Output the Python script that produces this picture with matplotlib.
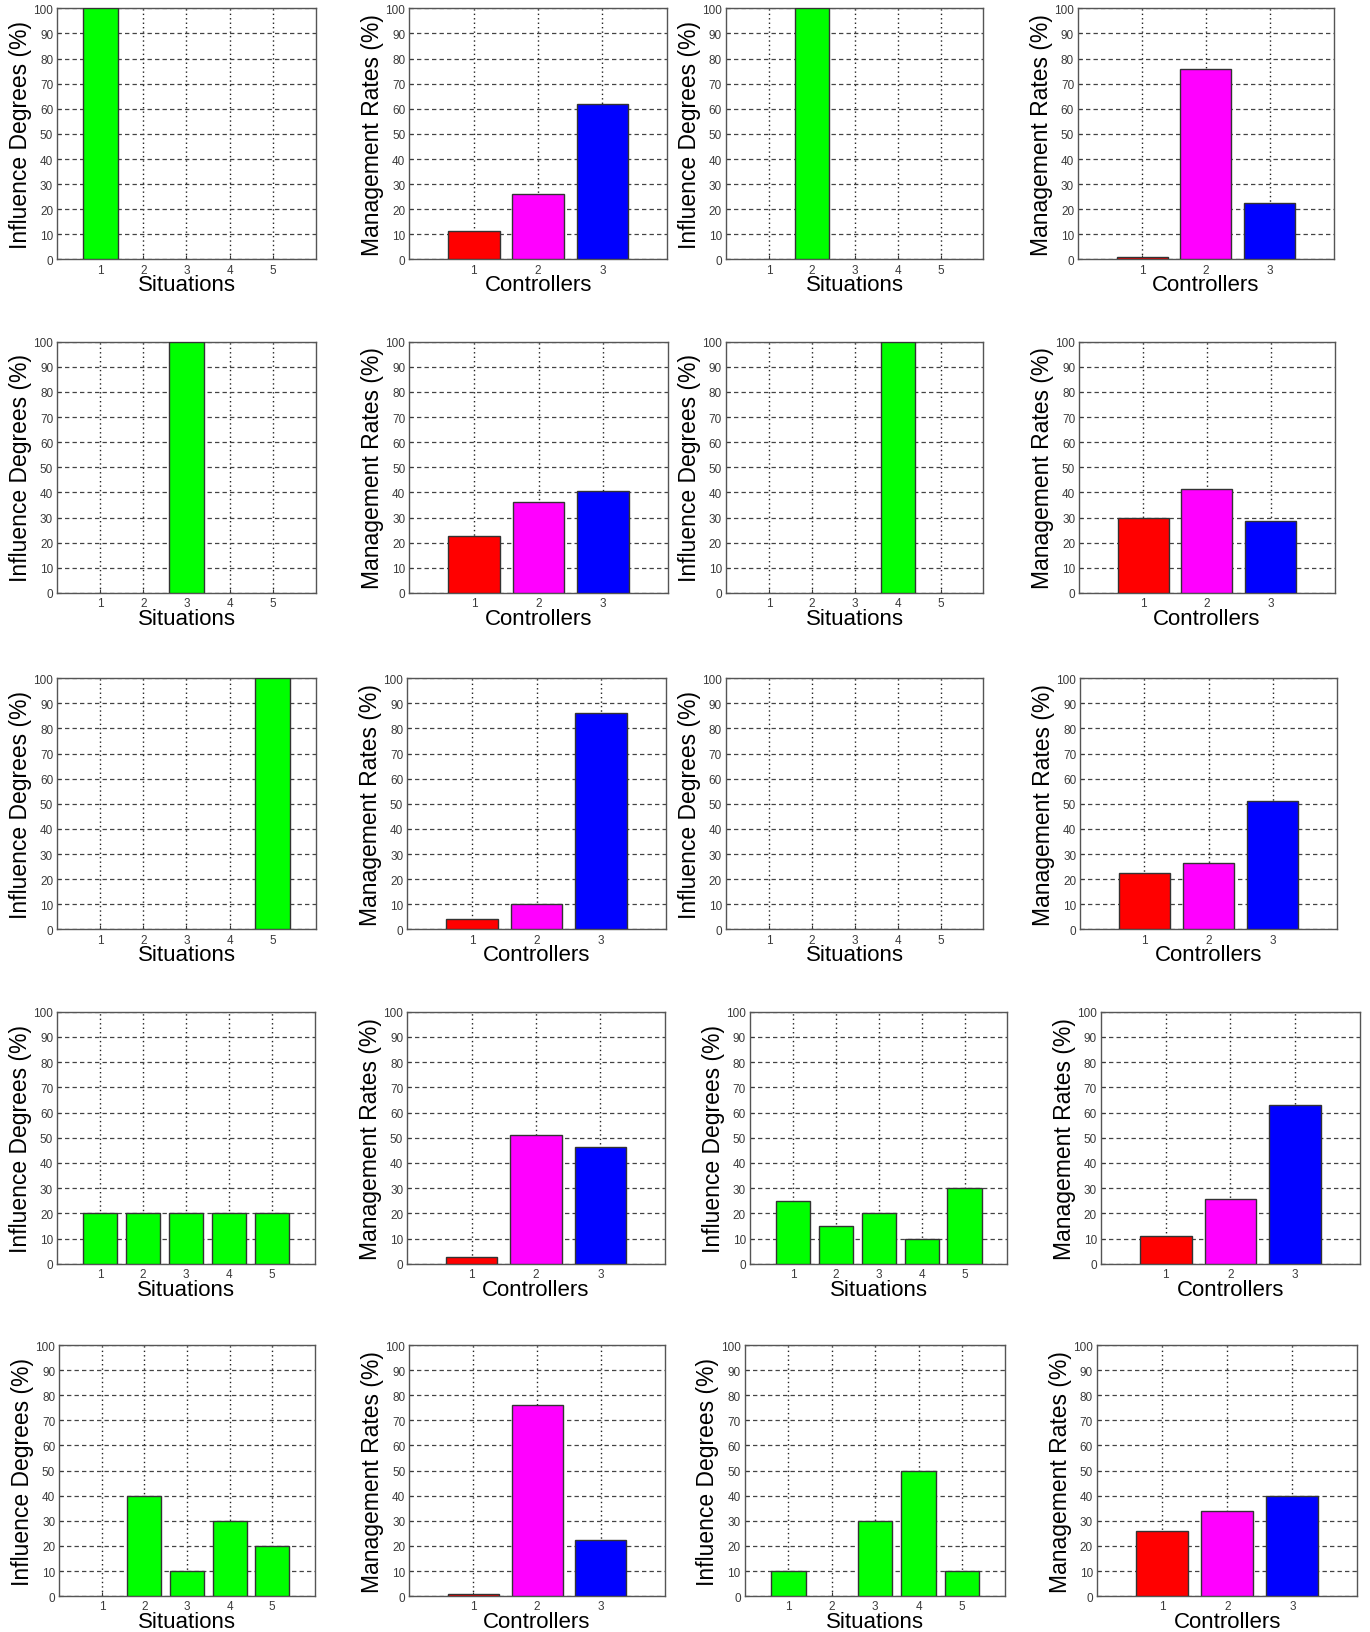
import matplotlib
matplotlib.use("Agg")
import matplotlib.pyplot as plt
import numpy as np

plt.rcParams['font.family'] = ['Liberation Sans', 'DejaVu Sans']

situations = [1, 2, 3, 4, 5]
controllers = [1, 2, 3]
yticks = list(range(0, 101, 10))

# Influence degrees (%) per situation, one list per case
infl_1 = [100, 0, 0, 0, 0]
infl_2 = [0, 100, 0, 0, 0]
infl_3 = [0, 0, 100, 0, 0]
infl_4 = [0, 0, 0, 100, 0]
infl_5 = [0, 0, 0, 0, 100]
infl_6 = [0, 0, 0, 0, 0]
infl_7 = [20, 20, 20, 20, 20]
infl_8 = [25, 15, 20, 10, 30]
infl_9 = [0, 40, 10, 30, 20]
infl_10 = [10, 0, 30, 50, 10]

# Management rates (%) per controller, one list per case
mgmt_1 = [11.5, 26, 62]
mgmt_2 = [1, 76, 22.5]
mgmt_3 = [22.8, 36, 40.7]
mgmt_4 = [30, 41.5, 28.5]
mgmt_5 = [4.3, 10, 86]
mgmt_6 = [22.5, 26.5, 51]
mgmt_7 = [2.5, 51, 46.5]
mgmt_8 = [11, 25.5, 63]
mgmt_9 = [1, 76, 22.5]
mgmt_10 = [26, 34, 40]

ctrl_colors = ['#ff0000', '#ff00ff', '#0000ff']
green = '#00ff00'

W, H = 1370, 1633
fig = plt.figure(figsize=(W / 100, H / 100), dpi=100)

S = 1370 / 1315.0
rows_y = [(9, 250), (329, 570), (652, 893), (972, 1214), (1292, 1533)]
cols_x = [
    [(55, 303), (393, 640), (697, 944), (1035, 1280)],
    [(55, 303), (393, 641), (697, 944), (1036, 1281)],
    [(55, 303), (391, 639), (697, 944), (1037, 1283)],
    [(55, 302), (391, 638), (720, 967), (1057, 1305)],
    [(57, 302), (393, 638), (715, 965), (1053, 1303)],
]

cases = [
    (infl_1, mgmt_1, infl_2, mgmt_2),
    (infl_3, mgmt_3, infl_4, mgmt_4),
    (infl_5, mgmt_5, infl_6, mgmt_6),
    (infl_7, mgmt_7, infl_8, mgmt_8),
    (infl_9, mgmt_9, infl_10, mgmt_10),
]


def style(ax, xs):
    ax.set_ylim(0, 100)
    ax.set_xlim(0, len(xs) + 1)
    ax.set_xticks(xs)
    ax.set_yticks(yticks)
    ax.tick_params(direction='in', length=3, labelsize=8.5, colors='#3a3a3a',
                   pad=3)
    ax.set_axisbelow(True)
    ax.xaxis.grid(True, linestyle=(0, (1, 2.2)), color='#222222', linewidth=1.0)
    ax.yaxis.grid(True, linestyle=(0, (3.5, 2.5)), color='#444444', linewidth=0.9)
    for sp in ax.spines.values():
        sp.set_color('#555555')
        sp.set_linewidth(1.0)


def bars(ax, xs, vals, colors):
    xs = np.asarray(xs)
    vals = np.asarray(vals, dtype=float)
    colors = np.asarray(colors)
    m = vals > 0
    if m.any():
        ax.bar(xs[m], vals[m], width=0.8, color=list(colors[m]),
               edgecolor='#333333', linewidth=1.0, zorder=3)


for r in range(5):
    y0, y1 = rows_y[r]
    top, bot = y0 * S, y1 * S
    for c in range(4):
        x0, x1 = cols_x[r][c]
        left, right = x0 * S, x1 * S
        ax = fig.add_axes([left / W, 1 - bot / H, (right - left) / W, (bot - top) / H])
        data = cases[r][c]
        if c % 2 == 0:
            bars(ax, situations, data, [green] * len(situations))
            style(ax, situations)
            ax.set_xlabel('Situations', fontsize=16, labelpad=-1)
            ax.set_ylabel('Influence Degrees (%)', fontsize=16.5, labelpad=1)
        else:
            bars(ax, controllers, data, ctrl_colors)
            style(ax, controllers)
            ax.set_xlabel('Controllers', fontsize=16, labelpad=-1)
            ax.set_ylabel('Management Rates (%)', fontsize=16.5, labelpad=1)

fig.savefig('out.png', dpi=100, facecolor='white')
